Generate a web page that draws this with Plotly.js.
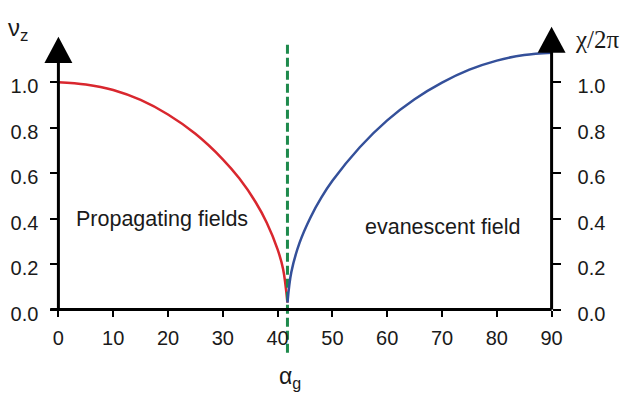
<!DOCTYPE html>
<html>
<head>
<meta charset="utf-8">
<script src="https://cdn.plot.ly/plotly-3.0.1.min.js"></script>
<style>html,body{margin:0;padding:0;background:#fff;}#chart{width:623px;height:393px;}</style>
</head>
<body>
<div id="chart"></div>
<script>
// Propagating fields: normalized axial wavenumber vs angle (deg)
const angleProp = [0, 5, 10, 15, 20, 25, 30, 33, 36, 38, 40, 41, 41.8];
const nuZ       = [1.0, 0.99, 0.966, 0.922, 0.858, 0.773, 0.661, 0.577, 0.472, 0.383, 0.265, 0.178, 0.03];
// Evanescent field: decay constant chi/2pi vs angle (deg)
const angleEvan = [41.8, 42.5, 44, 46, 48, 50, 55, 60, 65, 70, 75, 80, 85, 90];
const chi2pi    = [0.03, 0.164, 0.293, 0.405, 0.493, 0.566, 0.714, 0.832, 0.925, 0.998, 1.055, 1.095, 1.12, 1.13];
const criticalAngle = 41.8;
const xTicks = [0, 10, 20, 30, 40, 50, 60, 70, 80, 90];
const yTicks = [0, 0.2, 0.4, 0.6, 0.8, 1.0];
const yTickText = ['0.0', '0.2', '0.4', '0.6', '0.8', '1.0'];

const font = 'Liberation Sans, Arial, Helvetica, sans-serif';
const serif = 'Liberation Serif, Times New Roman, serif';

const traces = [
  {x: angleProp, y: nuZ, mode: 'lines', line: {color: '#d9272e', width: 2.5, shape: 'spline'}, hoverinfo: 'skip'},
  {x: angleEvan, y: chi2pi, mode: 'lines', line: {color: '#34509a', width: 2.5, shape: 'spline'}, yaxis: 'y2', hoverinfo: 'skip'},
  {x: [criticalAngle, criticalAngle], y: [-0.19, 1.178], mode: 'lines', line: {color: '#1e8a4c', width: 3, dash: '9px,4px'}, hoverinfo: 'skip'}
];

const shapes = [
  {type: 'line', xref: 'x', yref: 'y', x0: -1.5, x1: 90, y0: 0, y1: 0, line: {color: '#000', width: 3}},
  {type: 'line', xref: 'x', yref: 'y', x0: 0, x1: 0, y0: 0, y1: 1.09, line: {color: '#000', width: 3}},
  {type: 'line', xref: 'x', yref: 'y', x0: 90, x1: 90, y0: 0, y1: 1.135, line: {color: '#000', width: 3}},
  {type: 'path', xref: 'x', yref: 'y', path: 'M -2.55 1.085 L 2.55 1.085 L 0 1.2 Z', fillcolor: '#000', line: {width: 0}},
  {type: 'path', xref: 'x', yref: 'y', path: 'M 87.45 1.13 L 92.55 1.13 L 90 1.244 Z', fillcolor: '#000', line: {width: 0}}
];

const annotations = [
  {x: 18.96, y: 0.397, xref: 'x', yref: 'y', text: 'Propagating fields', showarrow: false, font: {family: font, size: 21.5, color: '#1a1a1a'}},
  {x: 70.0, y: 0.362, xref: 'x', yref: 'y', text: 'evanescent field', showarrow: false, font: {family: font, size: 21.5, color: '#1a1a1a'}},
  {x: -0.023, y: 0.955, xref: 'paper', yref: 'paper', xanchor: 'center', yanchor: 'middle', text: 'ν<sub>z</sub>', showarrow: false, font: {family: font, size: 24, color: '#1a1a1a'}},
  {x: 1.034, y: 0.924, xref: 'paper', yref: 'paper', xanchor: 'center', yanchor: 'middle', text: 'χ/2π', showarrow: false, font: {family: serif, size: 25, color: '#1a1a1a'}},
  {x: 0.4728, y: -0.067, xref: 'paper', yref: 'paper', xanchor: 'center', yanchor: 'middle', text: 'α<sub>g</sub>', showarrow: false, font: {family: font, size: 23, color: '#1a1a1a'}}
];

const layout = {
  width: 623, height: 393,
  margin: {l: 30.6, r: 43.8, t: 14, b: 38},
  paper_bgcolor: '#fff', plot_bgcolor: '#fff',
  showlegend: false,
  xaxis: {range: [-5, 95], tickvals: xTicks, ticktext: xTicks.map(String), ticks: 'outside', ticklen: 6, tickwidth: 2, tickcolor: '#000',
          showgrid: false, zeroline: false, showline: false, anchor: 'free', position: 0.2 / 1.5,
          tickfont: {family: font, size: 20, color: '#1a1a1a'}, ticklabelstandoff: 4},
  yaxis: {range: [-0.2, 1.3], tickvals: yTicks, ticktext: yTickText, ticks: 'outside', ticklen: 8, tickwidth: 2, tickcolor: '#000',
          showgrid: false, zeroline: false, showline: false, anchor: 'free', position: 0.05,
          tickfont: {family: font, size: 20, color: '#1a1a1a'}, ticklabelstandoff: 8, ticklabelshift: 4},
  yaxis2: {range: [-0.2, 1.3], tickvals: yTicks, ticktext: yTickText, ticks: 'outside', ticklen: 8, tickwidth: 2, tickcolor: '#000',
           showgrid: false, zeroline: false, showline: false, overlaying: 'y', side: 'right', anchor: 'free', position: 0.95,
           tickfont: {family: font, size: 20, color: '#1a1a1a'}, ticklabelstandoff: 13, ticklabelshift: 4},
  shapes: shapes,
  annotations: annotations
};

Plotly.newPlot('chart', traces, layout, {staticPlot: true, displayModeBar: false});
</script>
</body>
</html>
